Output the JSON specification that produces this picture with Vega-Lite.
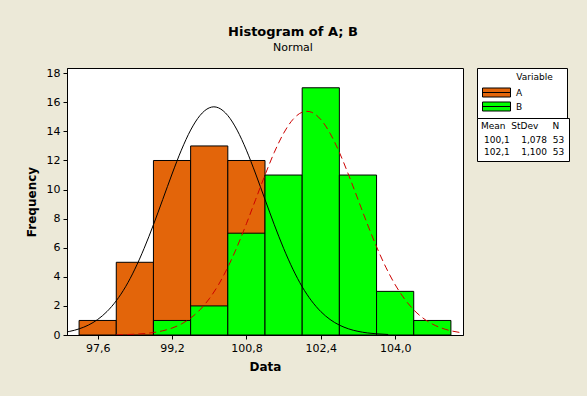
{
  "$schema": "https://vega.github.io/schema/vega-lite/v6.json",
  "width": 396,
  "height": 267,
  "autosize": {"type": "none"},
  "padding": {"left": 67, "top": 68, "right": 124, "bottom": 61},
  "background": "#ECE9D8",
  "title": {
    "text": "Histogram of A; B",
    "subtitle": "Normal",
    "anchor": "middle",
    "dx": 28,
    "offset": 14,
    "font": "DejaVu Sans",
    "fontSize": 13,
    "fontWeight": "bold",
    "color": "black",
    "subtitleFont": "DejaVu Sans",
    "subtitleFontSize": 11,
    "subtitleColor": "black",
    "subtitlePadding": 3
  },
  "datasets": {
    "bars": [
      {"variable": "A", "start": 97.2, "end": 98.0, "count": 1},
      {"variable": "A", "start": 98.0, "end": 98.8, "count": 5},
      {"variable": "A", "start": 98.8, "end": 99.6, "count": 12},
      {"variable": "A", "start": 99.6, "end": 100.4, "count": 13},
      {"variable": "A", "start": 100.4, "end": 101.2, "count": 12},
      {"variable": "A", "start": 101.2, "end": 102.0, "count": 7},
      {"variable": "A", "start": 102.0, "end": 102.8, "count": 2},
      {"variable": "A", "start": 102.8, "end": 103.6, "count": 1},
      {"variable": "B", "start": 98.8, "end": 99.6, "count": 1},
      {"variable": "B", "start": 99.6, "end": 100.4, "count": 2},
      {"variable": "B", "start": 100.4, "end": 101.2, "count": 7},
      {"variable": "B", "start": 101.2, "end": 102.0, "count": 11},
      {"variable": "B", "start": 102.0, "end": 102.8, "count": 17},
      {"variable": "B", "start": 102.8, "end": 103.6, "count": 11},
      {"variable": "B", "start": 103.6, "end": 104.4, "count": 3},
      {"variable": "B", "start": 104.4, "end": 105.2, "count": 1}
    ],
    "curves": [
      {"variable": "A", "stats": "100,1\u00a0\u00a0\u00a0\u00a01,078\u00a0\u00a053", "x": 96.94, "y": 0.214},
      {"variable": "A", "stats": "100,1\u00a0\u00a0\u00a0\u00a01,078\u00a0\u00a053", "x": 97.0, "y": 0.251},
      {"variable": "A", "stats": "100,1\u00a0\u00a0\u00a0\u00a01,078\u00a0\u00a053", "x": 97.2, "y": 0.421},
      {"variable": "A", "stats": "100,1\u00a0\u00a0\u00a0\u00a01,078\u00a0\u00a053", "x": 97.4, "y": 0.681},
      {"variable": "A", "stats": "100,1\u00a0\u00a0\u00a0\u00a01,078\u00a0\u00a053", "x": 97.6, "y": 1.066},
      {"variable": "A", "stats": "100,1\u00a0\u00a0\u00a0\u00a01,078\u00a0\u00a053", "x": 97.8, "y": 1.612},
      {"variable": "A", "stats": "100,1\u00a0\u00a0\u00a0\u00a01,078\u00a0\u00a053", "x": 98.0, "y": 2.354},
      {"variable": "A", "stats": "100,1\u00a0\u00a0\u00a0\u00a01,078\u00a0\u00a053", "x": 98.2, "y": 3.317},
      {"variable": "A", "stats": "100,1\u00a0\u00a0\u00a0\u00a01,078\u00a0\u00a053", "x": 98.4, "y": 4.527},
      {"variable": "A", "stats": "100,1\u00a0\u00a0\u00a0\u00a01,078\u00a0\u00a053", "x": 98.6, "y": 5.961},
      {"variable": "A", "stats": "100,1\u00a0\u00a0\u00a0\u00a01,078\u00a0\u00a053", "x": 98.8, "y": 7.583},
      {"variable": "A", "stats": "100,1\u00a0\u00a0\u00a0\u00a01,078\u00a0\u00a053", "x": 99.0, "y": 9.32},
      {"variable": "A", "stats": "100,1\u00a0\u00a0\u00a0\u00a01,078\u00a0\u00a053", "x": 99.2, "y": 11.07},
      {"variable": "A", "stats": "100,1\u00a0\u00a0\u00a0\u00a01,078\u00a0\u00a053", "x": 99.4, "y": 12.71},
      {"variable": "A", "stats": "100,1\u00a0\u00a0\u00a0\u00a01,078\u00a0\u00a053", "x": 99.6, "y": 14.09},
      {"variable": "A", "stats": "100,1\u00a0\u00a0\u00a0\u00a01,078\u00a0\u00a053", "x": 99.8, "y": 15.09},
      {"variable": "A", "stats": "100,1\u00a0\u00a0\u00a0\u00a01,078\u00a0\u00a053", "x": 100.0, "y": 15.62},
      {"variable": "A", "stats": "100,1\u00a0\u00a0\u00a0\u00a01,078\u00a0\u00a053", "x": 100.1, "y": 15.69},
      {"variable": "A", "stats": "100,1\u00a0\u00a0\u00a0\u00a01,078\u00a0\u00a053", "x": 100.2, "y": 15.62},
      {"variable": "A", "stats": "100,1\u00a0\u00a0\u00a0\u00a01,078\u00a0\u00a053", "x": 100.4, "y": 15.09},
      {"variable": "A", "stats": "100,1\u00a0\u00a0\u00a0\u00a01,078\u00a0\u00a053", "x": 100.6, "y": 14.09},
      {"variable": "A", "stats": "100,1\u00a0\u00a0\u00a0\u00a01,078\u00a0\u00a053", "x": 100.8, "y": 12.71},
      {"variable": "A", "stats": "100,1\u00a0\u00a0\u00a0\u00a01,078\u00a0\u00a053", "x": 101.0, "y": 11.07},
      {"variable": "A", "stats": "100,1\u00a0\u00a0\u00a0\u00a01,078\u00a0\u00a053", "x": 101.2, "y": 9.32},
      {"variable": "A", "stats": "100,1\u00a0\u00a0\u00a0\u00a01,078\u00a0\u00a053", "x": 101.4, "y": 7.583},
      {"variable": "A", "stats": "100,1\u00a0\u00a0\u00a0\u00a01,078\u00a0\u00a053", "x": 101.6, "y": 5.961},
      {"variable": "A", "stats": "100,1\u00a0\u00a0\u00a0\u00a01,078\u00a0\u00a053", "x": 101.8, "y": 4.527},
      {"variable": "A", "stats": "100,1\u00a0\u00a0\u00a0\u00a01,078\u00a0\u00a053", "x": 102.0, "y": 3.317},
      {"variable": "A", "stats": "100,1\u00a0\u00a0\u00a0\u00a01,078\u00a0\u00a053", "x": 102.2, "y": 2.354},
      {"variable": "A", "stats": "100,1\u00a0\u00a0\u00a0\u00a01,078\u00a0\u00a053", "x": 102.4, "y": 1.612},
      {"variable": "A", "stats": "100,1\u00a0\u00a0\u00a0\u00a01,078\u00a0\u00a053", "x": 102.6, "y": 1.066},
      {"variable": "A", "stats": "100,1\u00a0\u00a0\u00a0\u00a01,078\u00a0\u00a053", "x": 102.8, "y": 0.681},
      {"variable": "A", "stats": "100,1\u00a0\u00a0\u00a0\u00a01,078\u00a0\u00a053", "x": 103.0, "y": 0.421},
      {"variable": "A", "stats": "100,1\u00a0\u00a0\u00a0\u00a01,078\u00a0\u00a053", "x": 103.2, "y": 0.251},
      {"variable": "A", "stats": "100,1\u00a0\u00a0\u00a0\u00a01,078\u00a0\u00a053", "x": 103.4, "y": 0.145},
      {"variable": "A", "stats": "100,1\u00a0\u00a0\u00a0\u00a01,078\u00a0\u00a053", "x": 103.6, "y": 0.081},
      {"variable": "A", "stats": "100,1\u00a0\u00a0\u00a0\u00a01,078\u00a0\u00a053", "x": 103.85, "y": 0.036},
      {"variable": "B", "stats": "102,1\u00a0\u00a0\u00a0\u00a01,100\u00a0\u00a053", "x": 98.0, "y": 0.015},
      {"variable": "B", "stats": "102,1\u00a0\u00a0\u00a0\u00a01,100\u00a0\u00a053", "x": 98.2, "y": 0.029},
      {"variable": "B", "stats": "102,1\u00a0\u00a0\u00a0\u00a01,100\u00a0\u00a053", "x": 98.4, "y": 0.054},
      {"variable": "B", "stats": "102,1\u00a0\u00a0\u00a0\u00a01,100\u00a0\u00a053", "x": 98.6, "y": 0.0975},
      {"variable": "B", "stats": "102,1\u00a0\u00a0\u00a0\u00a01,100\u00a0\u00a053", "x": 98.8, "y": 0.171},
      {"variable": "B", "stats": "102,1\u00a0\u00a0\u00a0\u00a01,100\u00a0\u00a053", "x": 99.0, "y": 0.29},
      {"variable": "B", "stats": "102,1\u00a0\u00a0\u00a0\u00a01,100\u00a0\u00a053", "x": 99.2, "y": 0.476},
      {"variable": "B", "stats": "102,1\u00a0\u00a0\u00a0\u00a01,100\u00a0\u00a053", "x": 99.4, "y": 0.756},
      {"variable": "B", "stats": "102,1\u00a0\u00a0\u00a0\u00a01,100\u00a0\u00a053", "x": 99.6, "y": 1.162},
      {"variable": "B", "stats": "102,1\u00a0\u00a0\u00a0\u00a01,100\u00a0\u00a053", "x": 99.8, "y": 1.73},
      {"variable": "B", "stats": "102,1\u00a0\u00a0\u00a0\u00a01,100\u00a0\u00a053", "x": 100.0, "y": 2.49},
      {"variable": "B", "stats": "102,1\u00a0\u00a0\u00a0\u00a01,100\u00a0\u00a053", "x": 100.2, "y": 3.46},
      {"variable": "B", "stats": "102,1\u00a0\u00a0\u00a0\u00a01,100\u00a0\u00a053", "x": 100.4, "y": 4.66},
      {"variable": "B", "stats": "102,1\u00a0\u00a0\u00a0\u00a01,100\u00a0\u00a053", "x": 100.6, "y": 6.07},
      {"variable": "B", "stats": "102,1\u00a0\u00a0\u00a0\u00a01,100\u00a0\u00a053", "x": 100.8, "y": 7.65},
      {"variable": "B", "stats": "102,1\u00a0\u00a0\u00a0\u00a01,100\u00a0\u00a053", "x": 101.0, "y": 9.33},
      {"variable": "B", "stats": "102,1\u00a0\u00a0\u00a0\u00a01,100\u00a0\u00a053", "x": 101.2, "y": 11.0},
      {"variable": "B", "stats": "102,1\u00a0\u00a0\u00a0\u00a01,100\u00a0\u00a053", "x": 101.4, "y": 12.56},
      {"variable": "B", "stats": "102,1\u00a0\u00a0\u00a0\u00a01,100\u00a0\u00a053", "x": 101.6, "y": 13.87},
      {"variable": "B", "stats": "102,1\u00a0\u00a0\u00a0\u00a01,100\u00a0\u00a053", "x": 101.8, "y": 14.82},
      {"variable": "B", "stats": "102,1\u00a0\u00a0\u00a0\u00a01,100\u00a0\u00a053", "x": 102.0, "y": 15.32},
      {"variable": "B", "stats": "102,1\u00a0\u00a0\u00a0\u00a01,100\u00a0\u00a053", "x": 102.1, "y": 15.38},
      {"variable": "B", "stats": "102,1\u00a0\u00a0\u00a0\u00a01,100\u00a0\u00a053", "x": 102.2, "y": 15.32},
      {"variable": "B", "stats": "102,1\u00a0\u00a0\u00a0\u00a01,100\u00a0\u00a053", "x": 102.4, "y": 14.82},
      {"variable": "B", "stats": "102,1\u00a0\u00a0\u00a0\u00a01,100\u00a0\u00a053", "x": 102.6, "y": 13.87},
      {"variable": "B", "stats": "102,1\u00a0\u00a0\u00a0\u00a01,100\u00a0\u00a053", "x": 102.8, "y": 12.56},
      {"variable": "B", "stats": "102,1\u00a0\u00a0\u00a0\u00a01,100\u00a0\u00a053", "x": 103.0, "y": 11.0},
      {"variable": "B", "stats": "102,1\u00a0\u00a0\u00a0\u00a01,100\u00a0\u00a053", "x": 103.2, "y": 9.33},
      {"variable": "B", "stats": "102,1\u00a0\u00a0\u00a0\u00a01,100\u00a0\u00a053", "x": 103.4, "y": 7.65},
      {"variable": "B", "stats": "102,1\u00a0\u00a0\u00a0\u00a01,100\u00a0\u00a053", "x": 103.6, "y": 6.07},
      {"variable": "B", "stats": "102,1\u00a0\u00a0\u00a0\u00a01,100\u00a0\u00a053", "x": 103.8, "y": 4.66},
      {"variable": "B", "stats": "102,1\u00a0\u00a0\u00a0\u00a01,100\u00a0\u00a053", "x": 104.0, "y": 3.46},
      {"variable": "B", "stats": "102,1\u00a0\u00a0\u00a0\u00a01,100\u00a0\u00a053", "x": 104.2, "y": 2.49},
      {"variable": "B", "stats": "102,1\u00a0\u00a0\u00a0\u00a01,100\u00a0\u00a053", "x": 104.4, "y": 1.73},
      {"variable": "B", "stats": "102,1\u00a0\u00a0\u00a0\u00a01,100\u00a0\u00a053", "x": 104.6, "y": 1.162},
      {"variable": "B", "stats": "102,1\u00a0\u00a0\u00a0\u00a01,100\u00a0\u00a053", "x": 104.8, "y": 0.756},
      {"variable": "B", "stats": "102,1\u00a0\u00a0\u00a0\u00a01,100\u00a0\u00a053", "x": 105.0, "y": 0.476},
      {"variable": "B", "stats": "102,1\u00a0\u00a0\u00a0\u00a01,100\u00a0\u00a053", "x": 105.2, "y": 0.29},
      {"variable": "B", "stats": "102,1\u00a0\u00a0\u00a0\u00a01,100\u00a0\u00a053", "x": 105.4, "y": 0.171},
      {"variable": "B", "stats": "102,1\u00a0\u00a0\u00a0\u00a01,100\u00a0\u00a053", "x": 105.46, "y": 0.145}
    ]
  },
  "layer": [
    {
      "data": {"name": "bars"},
      "transform": [{"filter": "datum.variable === 'A'"}],
      "mark": {"type": "rect", "stroke": "black", "strokeWidth": 1},
      "encoding": {
        "x": {
          "field": "start", "type": "quantitative",
          "scale": {"domain": [96.94, 105.46], "nice": false, "zero": false},
          "axis": {
            "title": "Data",
            "values": [97.6, 99.2, 100.8, 102.4, 104.0],
            "labelExpr": "replace(format(datum.value, '.1f'), '.', ',')"
          }
        },
        "x2": {"field": "end"},
        "y": {
          "field": "count", "type": "quantitative",
          "scale": {"domain": [0, 18.36], "nice": false},
          "axis": {"title": "Frequency", "values": [0, 2, 4, 6, 8, 10, 12, 14, 16, 18], "labelOverlap": false}
        },
        "y2": {"datum": 0},
        "fill": {
          "field": "variable", "type": "nominal",
          "scale": {"domain": ["A", "B"], "range": ["#E3650A", "#00FF00"]},
          "legend": {
            "title": "\u200b\u00a0\u00a0\u00a0\u00a0\u00a0\u00a0\u00a0\u00a0\u00a0\u00a0\u00a0\u00a0Variable\u00a0\u00a0\u00a0\u200b",
            "orient": "none",
            "legendX": 410,
            "legendY": 0,
            "symbolType": "M-2.8,-0.9H2.8V0.9H-2.8Z M-2.8,0H2.8",
            "symbolSize": 100,
            "symbolOffset": 9,
            "labelOffset": 14,
            "rowPadding": 1,
            "titlePadding": 5
          }
        }
      }
    },
    {
      "data": {"name": "bars"},
      "transform": [{"filter": "datum.variable === 'B'"}],
      "mark": {"type": "rect", "stroke": "black", "strokeWidth": 1},
      "encoding": {
        "x": {
          "field": "start", "type": "quantitative",
          "axis": {
            "title": "Data",
            "values": [97.6, 99.2, 100.8, 102.4, 104.0],
            "labelExpr": "replace(format(datum.value, '.1f'), '.', ',')"
          }
        },
        "x2": {"field": "end"},
        "y": {
          "field": "count", "type": "quantitative",
          "axis": {"title": "Frequency", "values": [0, 2, 4, 6, 8, 10, 12, 14, 16, 18], "labelOverlap": false}
        },
        "y2": {"datum": 0},
        "fill": {"field": "variable", "type": "nominal"}
      }
    },
    {
      "data": {"name": "curves"},
      "transform": [{"filter": "datum.variable === 'A'"}],
      "mark": {"type": "line", "interpolate": "monotone", "clip": true, "stroke": "#000000"},
      "encoding": {
        "x": {
          "field": "x", "type": "quantitative",
          "axis": {
            "title": "Data",
            "values": [97.6, 99.2, 100.8, 102.4, 104.0],
            "labelExpr": "replace(format(datum.value, '.1f'), '.', ',')"
          }
        },
        "y": {
          "field": "y", "type": "quantitative",
          "axis": {"title": "Frequency", "values": [0, 2, 4, 6, 8, 10, 12, 14, 16, 18], "labelOverlap": false}
        },
        "strokeWidth": {
          "field": "stats", "type": "ordinal",
          "scale": {"type": "ordinal", "domain": ["100,1\u00a0\u00a0\u00a0\u00a01,078\u00a0\u00a053", "102,1\u00a0\u00a0\u00a0\u00a01,100\u00a0\u00a053"], "range": [1, 1]},
          "legend": {
            "title": "Mean\u00a0\u00a0StDev\u00a0\u00a0\u00a0\u00a0\u00a0N",
            "orient": "none",
            "legendX": 410,
            "legendY": 50,
            "symbolOpacity": 0,
            "symbolSize": 0,
            "symbolStrokeWidth": 0,
            "labelOffset": -6,
            "rowPadding": 2,
            "titlePadding": 4,
            "padding": 4
          }
        }
      }
    },
    {
      "data": {"name": "curves"},
      "transform": [{"filter": "datum.variable === 'B'"}],
      "mark": {"type": "line", "interpolate": "monotone", "clip": true, "stroke": "#CC0000", "strokeDash": [7, 4]},
      "encoding": {
        "x": {
          "field": "x", "type": "quantitative",
          "axis": {
            "title": "Data",
            "values": [97.6, 99.2, 100.8, 102.4, 104.0],
            "labelExpr": "replace(format(datum.value, '.1f'), '.', ',')"
          }
        },
        "y": {
          "field": "y", "type": "quantitative",
          "axis": {"title": "Frequency", "values": [0, 2, 4, 6, 8, 10, 12, 14, 16, 18], "labelOverlap": false}
        },
        "strokeWidth": {
          "field": "stats", "type": "ordinal",
          "scale": {"type": "ordinal", "domain": ["100,1\u00a0\u00a0\u00a0\u00a01,078\u00a0\u00a053", "102,1\u00a0\u00a0\u00a0\u00a01,100\u00a0\u00a053"], "range": [1, 1]},
          "legend": {
            "title": "Mean\u00a0\u00a0StDev\u00a0\u00a0\u00a0\u00a0\u00a0N",
            "orient": "none",
            "legendX": 410,
            "legendY": 50,
            "symbolOpacity": 0,
            "symbolSize": 0,
            "symbolStrokeWidth": 0,
            "labelOffset": -6,
            "rowPadding": 2,
            "titlePadding": 4,
            "padding": 4
          }
        }
      }
    }
  ],
  "config": {
    "font": "DejaVu Sans",
    "view": {"fill": "white", "stroke": "black", "strokeWidth": 1},
    "axis": {
      "grid": false,
      "domainColor": "black",
      "tickColor": "black",
      "tickSize": 4,
      "labelColor": "black",
      "labelFont": "DejaVu Sans",
      "labelFontSize": 11,
      "labelPadding": 3,
      "titleColor": "black",
      "titleFont": "DejaVu Sans",
      "titleFontSize": 12,
      "titleFontWeight": "bold"
    },
    "axisX": {"titlePadding": 8},
    "axisY": {"titlePadding": 8},
    "legend": {
      "strokeColor": "black",
      "fillColor": "white",
      "padding": 5,
      "titleFont": "DejaVu Sans",
      "titleFontSize": 9,
      "titleFontWeight": "normal",
      "titleColor": "black",
      "labelFont": "DejaVu Sans",
      "labelFontSize": 9,
      "labelColor": "black",
      "symbolStrokeColor": "black",
      "symbolStrokeWidth": 1
    }
  }
}
